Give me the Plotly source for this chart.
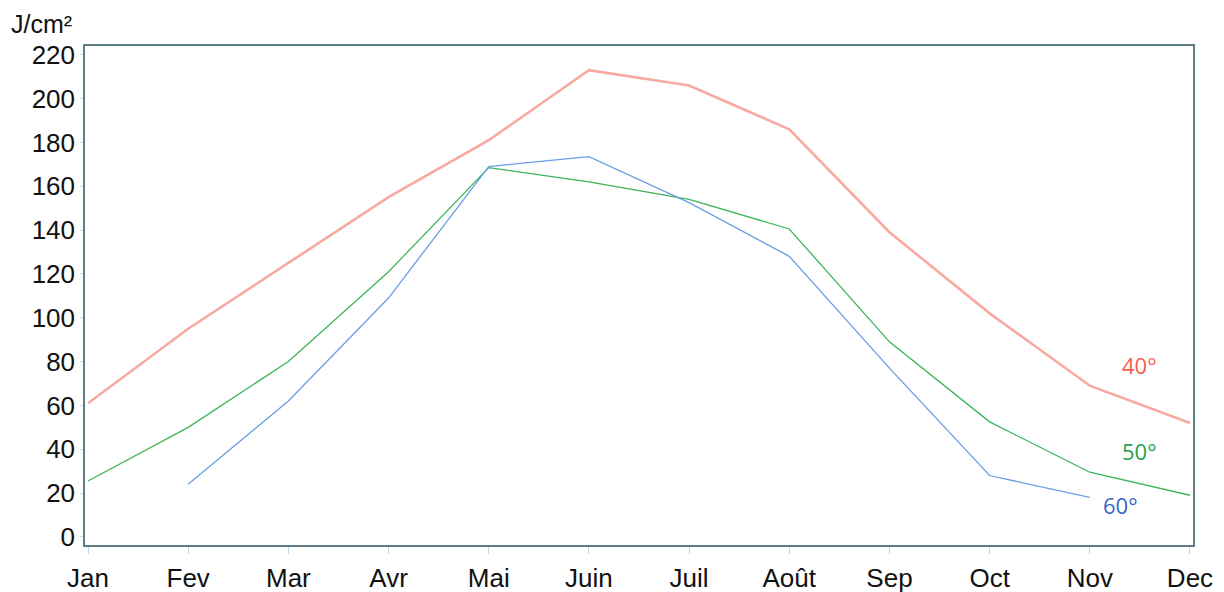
import plotly.graph_objects as go

months = ["Jan", "Fev", "Mar", "Avr", "Mai", "Juin", "Juil", "Août", "Sep", "Oct", "Nov", "Dec"]
lat_40 = [61, 95, 125, 155, 181, 213, 206, 186, 139, 102, 69, 52]
lat_50 = [25.5, 50, 80, 121, 168.5, 162, 154, 140.5, 89, 52.5, 29.5, 19]
lat_60 = [None, 24, 62, 109, 169, 173.5, 152.5, 128, 77, 28, 18, None]
y_ticks = list(range(0, 221, 20))

fig = go.Figure()

fig.add_trace(go.Scatter(
    x=months, y=lat_40, mode="lines", name="40°",
    line=dict(color="#f8aaa2", width=2.6)
))
fig.add_trace(go.Scatter(
    x=months, y=lat_50, mode="lines", name="50°",
    line=dict(color="#3cb559", width=1.3)
))
fig.add_trace(go.Scatter(
    x=months, y=lat_60, mode="lines", name="60°",
    line=dict(color="#6b9ee6", width=1.3)
))

# series labels next to the line ends
fig.add_annotation(x=11, y=52, xref="x", yref="y", text="40°", showarrow=False,
                   xshift=-50, yshift=58, font=dict(color="#f0604c", size=22, family="Open Sans"))
fig.add_annotation(x=11, y=19, xref="x", yref="y", text="50°", showarrow=False,
                   xshift=-50, yshift=44, font=dict(color="#1fa34f", size=22, family="Open Sans"))
fig.add_annotation(x=10, y=18, xref="x", yref="y", text="60°", showarrow=False,
                   xshift=31, yshift=-8, font=dict(color="#3468c8", size=22, family="Open Sans"))

# unit label
fig.add_annotation(x=0, y=1, xref="paper", yref="paper", text="J/cm²", showarrow=False,
                   xanchor="left", yanchor="bottom", xshift=-76, yshift=6,
                   font=dict(color="#111111", size=25, family="Liberation Sans"))

fig.update_layout(
    width=1224, height=592,
    margin=dict(l=77, r=39, t=38, b=55),
    paper_bgcolor="white", plot_bgcolor="white",
    showlegend=False,
    font=dict(family="Liberation Sans", size=26, color="#111111"),
)
fig.update_xaxes(
    type="category", range=[-0.03, 11.03], automargin=False,
    showgrid=False, showline=True, linecolor="#5f7d84", linewidth=1.5, mirror=True,
    ticks="outside", ticklen=7, tickcolor="#b8d4e6", tickwidth=1,
    ticklabelstandoff=2,
)
fig.update_yaxes(
    range=[-3.7, 224], tickvals=y_ticks, automargin=False,
    showgrid=False, zeroline=False, showline=True, linecolor="#5f7d84", linewidth=1.5, mirror=True,
    ticks="outside", ticklen=3, tickcolor="#c9dbe6",
)

fig.write_html("out.html")
